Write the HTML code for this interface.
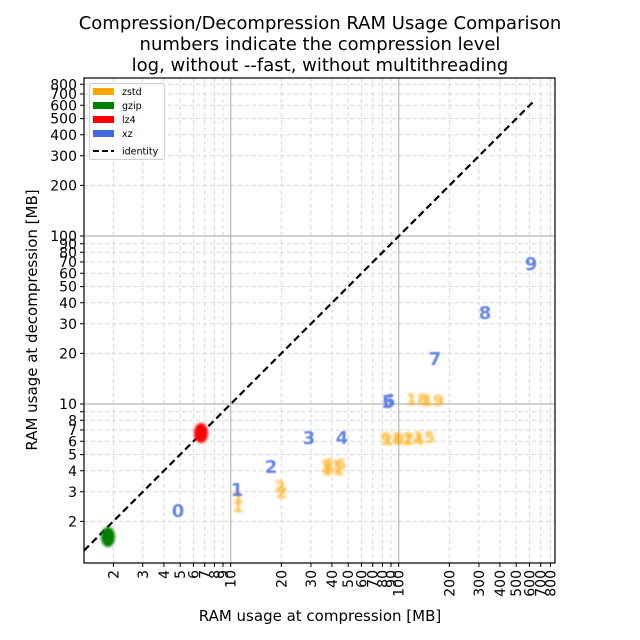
<!DOCTYPE html>
<html><head><meta charset="utf-8"><style>
body{margin:0;background:#fff}
svg{display:block;font-family:"DejaVu Sans","Liberation Sans",sans-serif}
</style></head><body>
<svg width="640" height="640" viewBox="0 0 640 640" xmlns="http://www.w3.org/2000/svg">
<defs>
<filter id="b" x="-50%" y="-50%" width="200%" height="200%"><feGaussianBlur stdDeviation="1.2"/></filter>
<filter id="b2" x="-50%" y="-50%" width="200%" height="200%"><feGaussianBlur stdDeviation="0.6"/></filter>
</defs>
<rect width="640" height="640" fill="#fff"/>
<g font-size="18" text-anchor="middle" fill="#000">
<text x="320" y="29">Compression/Decompression RAM Usage Comparison</text>
<text x="320" y="50">numbers indicate the compression level</text>
<text x="320" y="71">log, without --fast, without multithreading</text>
</g>
<g stroke="#d8d8d8" stroke-width="1" stroke-dasharray="4,3">
<path d="M113.4 78V563M142.8 78V563M163.9 78V563M180.2 78V563M193.4 78V563M204.7 78V563M214.4 78V563M223 78V563M281.3 78V563M310.9 78V563M331.9 78V563M348.2 78V563M361.4 78V563M372.7 78V563M382.4 78V563M391 78V563M449.3 78V563M478.9 78V563M499.9 78V563M516.2 78V563M529.4 78V563M540.7 78V563M550.4 78V563"/>
<path d="M84 521.4H555M84 491.8H555M84 470.8H555M84 454.6H555M84 441.3H555M84 430H555M84 420.3H555M84 411.7H555M84 353.4H555M84 323.8H555M84 302.8H555M84 286.6H555M84 273.3H555M84 262H555M84 252.3H555M84 243.7H555M84 185.4H555M84 155.8H555M84 134.8H555M84 118.6H555M84 105.3H555M84 94H555M84 84.3H555"/>
</g>
<g stroke="#b8b8b8" stroke-width="1.2">
<path d="M230.7 78V563M398.7 78V563M84 404H555M84 236H555"/>
</g>
<path d="M84 550.6L535 100" stroke="#000" stroke-width="2.2" stroke-dasharray="7,4" fill="none"/>
<ellipse cx="201" cy="433" rx="7" ry="10" fill="#f00" filter="url(#b)"/>
<ellipse cx="108" cy="537" rx="7" ry="10" fill="#008000" filter="url(#b)"/>
<g fill="#ffa500" font-size="16" font-weight="bold" opacity="0.75" filter="url(#b)" text-anchor="middle">
<text x="238" y="512">1</text><text x="238" y="503">1</text>
<text x="282" y="498">2</text><text x="280" y="492">2</text>
<text x="333" y="475">11</text><text x="331" y="472">13</text><text x="335" y="470">16</text>
<text x="386" y="444">9</text><text x="393" y="445">10</text><text x="403" y="444">12</text><text x="413" y="445">14</text><text x="424" y="443">15</text>
<text x="417" y="405">18</text><text x="433" y="406">19</text>
</g>
<g fill="#4169e1" font-size="18" font-weight="bold" opacity="0.8" filter="url(#b2)" text-anchor="middle">
<text x="178" y="517">0</text><text x="237" y="496">1</text><text x="271" y="473">2</text>
<text x="309" y="444">3</text><text x="342" y="444">4</text><text x="388" y="408">5</text><text x="389" y="407">6</text>
<text x="435" y="365">7</text><text x="485" y="319">8</text><text x="531" y="270">9</text>
</g>
<rect x="84" y="78" width="471" height="485" fill="none" stroke="#000" stroke-width="1.2"/>
<g stroke="#000" stroke-width="1">
<path d="M80 521.4H84M80 491.8H84M80 470.8H84M80 454.6H84M80 441.3H84M80 430H84M80 420.3H84M80 411.7H84M80 404H84M80 353.4H84M80 323.8H84M80 302.8H84M80 286.6H84M80 273.3H84M80 262H84M80 252.3H84M80 243.7H84M80 236H84M80 185.4H84M80 155.8H84M80 134.8H84M80 118.6H84M80 105.3H84M80 94H84M80 84.3H84"/>
<path d="M113.4 563v4M142.8 563v4M163.9 563v4M180.2 563v4M193.4 563v4M204.7 563v4M214.4 563v4M223 563v4M230.7 563v4M281.3 563v4M310.9 563v4M331.9 563v4M348.2 563v4M361.4 563v4M372.7 563v4M382.4 563v4M391 563v4M398.7 563v4M449.3 563v4M478.9 563v4M499.9 563v4M516.2 563v4M529.4 563v4M540.7 563v4M550.4 563v4"/>
</g>
<g font-size="14" text-anchor="end" fill="#000">
<text x="77" y="526.5">2</text><text x="77" y="497">3</text><text x="77" y="476">4</text><text x="77" y="459.7">5</text><text x="77" y="446.4">6</text><text x="77" y="435">7</text><text x="77" y="425.4">8</text><text x="77" y="409">10</text>
<text x="77" y="358.5">20</text><text x="77" y="329">30</text><text x="77" y="308">40</text><text x="77" y="291.7">50</text><text x="77" y="278.4">60</text><text x="77" y="267">70</text><text x="77" y="257.4">80</text><text x="77" y="248.8">90</text><text x="77" y="241">100</text>
<text x="77" y="190.5">200</text><text x="77" y="161">300</text><text x="77" y="140">400</text><text x="77" y="123.7">500</text><text x="77" y="110.4">600</text><text x="77" y="99">700</text><text x="77" y="89.4">800</text>
</g>
<g font-size="14" text-anchor="end" fill="#000">
<text transform="translate(118.4,570) rotate(-90)">2</text>
<text transform="translate(147.8,570) rotate(-90)">3</text>
<text transform="translate(168.9,570) rotate(-90)">4</text>
<text transform="translate(185.2,570) rotate(-90)">5</text>
<text transform="translate(198.4,570) rotate(-90)">6</text>
<text transform="translate(209.7,570) rotate(-90)">7</text>
<text transform="translate(219.4,570) rotate(-90)">8</text>
<text transform="translate(228,570) rotate(-90)">9</text>
<text transform="translate(235.7,570) rotate(-90)">10</text>
<text transform="translate(286.3,570) rotate(-90)">20</text>
<text transform="translate(315.9,570) rotate(-90)">30</text>
<text transform="translate(336.9,570) rotate(-90)">40</text>
<text transform="translate(353.2,570) rotate(-90)">50</text>
<text transform="translate(366.4,570) rotate(-90)">60</text>
<text transform="translate(377.7,570) rotate(-90)">70</text>
<text transform="translate(387.4,570) rotate(-90)">80</text>
<text transform="translate(396,570) rotate(-90)">90</text>
<text transform="translate(403.7,570) rotate(-90)">100</text>
<text transform="translate(454.3,570) rotate(-90)">200</text>
<text transform="translate(483.9,570) rotate(-90)">300</text>
<text transform="translate(504.9,570) rotate(-90)">400</text>
<text transform="translate(521.2,570) rotate(-90)">500</text>
<text transform="translate(534.4,570) rotate(-90)">600</text>
<text transform="translate(545.7,570) rotate(-90)">700</text>
<text transform="translate(555.4,570) rotate(-90)">800</text>
</g>
<text x="320" y="621" font-size="15" text-anchor="middle">RAM usage at compression [MB]</text>
<text transform="translate(37,320) rotate(-90)" font-size="15" text-anchor="middle">RAM usage at decompression [MB]</text>
<rect x="89.5" y="83.5" width="75" height="76" rx="2" fill="#fff" fill-opacity="0.85" stroke="#d0d0d0"/>
<rect x="93" y="88" width="21" height="7" fill="#ffa500"/>
<rect x="93" y="102" width="21" height="7" fill="#008000"/>
<rect x="93" y="116" width="21" height="7" fill="#f00"/>
<rect x="93" y="130" width="21" height="7" fill="#4169e1"/>
<path d="M93 151H114" stroke="#000" stroke-width="2" stroke-dasharray="6,3"/>
<g font-size="9.5" fill="#000">
<text x="122" y="95">zstd</text><text x="122" y="109">gzip</text><text x="122" y="123">lz4</text><text x="122" y="137">xz</text><text x="122" y="154.5">identity</text>
</g>
</svg>
</body></html>
